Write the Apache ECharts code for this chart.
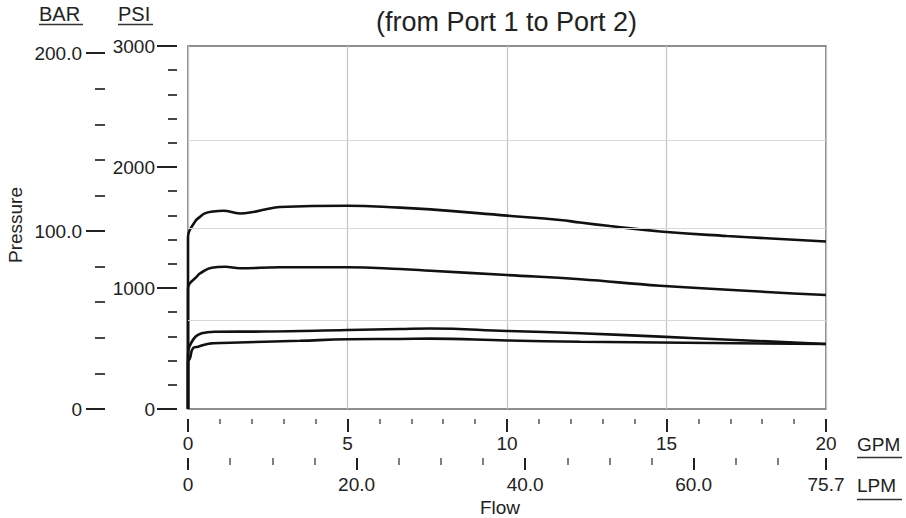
<!DOCTYPE html>
<html>
<head>
<meta charset="utf-8">
<title>Pressure vs Flow</title>
<script src="https://cdn.jsdelivr.net/npm/echarts/dist/echarts.min.js"></script>
<style>
  html, body { margin: 0; padding: 0; background: #fff; }
  #chart { width: 906px; height: 518px; }
</style>
</head>
<body>
<div id="chart"></div>
<script>
  // curves: [flow GPM, pressure PSI]
  var curveTop = [[0, 0], [0, 1420], [0.22, 1548], [0.38, 1589], [0.53, 1617], [0.78, 1632], [1.1, 1639],
    [1.63, 1616], [2.04, 1628], [2.41, 1649], [2.88, 1669], [5.0, 1680], [6.65, 1664], [7.6, 1650],
    [10.0, 1598], [11.66, 1562], [12.29, 1541], [13.23, 1512], [14.8, 1467], [16.9, 1430], [20.0, 1384]];
  var curveSecond = [[0, 0], [0, 990], [0.32, 1107], [0.38, 1121], [0.74, 1168], [1.16, 1176], [1.63, 1163],
    [2.88, 1171], [5.0, 1171], [6.65, 1157], [7.6, 1143], [10.0, 1107], [12.3, 1072],
    [14.8, 1019], [20.0, 942]];
  var curveThird = [[0, 0], [0, 438], [0.12, 556], [0.43, 626], [0.85, 639], [2.41, 640], [5.0, 653],
    [6.65, 661], [7.6, 665], [10.0, 645], [12.3, 626], [14.8, 598], [20.0, 537]];
  var curveBottom = [[0, 0], [0, 388], [0.06, 419], [0.16, 504], [0.32, 515], [0.64, 540], [0.78, 543],
    [2.41, 556], [3.5, 564], [5.0, 576], [6.65, 579], [7.6, 582], [10.0, 566], [12.3, 556], [20.0, 537]];

  // axis ticks and labels
  var lpmMajor = [0, 20, 40, 60, 75.7];
  var lpmMinor = [5, 10, 15, 25, 30, 35, 45, 50, 55, 65, 70];
  var barMajor = [0, 100, 200];
  var barMinor = [20, 40, 60, 80, 120, 140, 160, 180];
  var barMax = 204;
  var refLinesPsi = [2220, 1495, 735];

  var font = 'Liberation Sans, Arial, Helvetica, sans-serif';
  var ink = '#222';
  var noLine = { show: false };

  function curve(name, data) {
    return {
      name: name,
      type: 'line',
      xAxisIndex: 0,
      yAxisIndex: 0,
      data: data,
      smooth: 0.45,
      showSymbol: false,
      silent: true,
      lineStyle: { color: '#111', width: 2.6 }
    };
  }

  var series = [
    curve('c1', curveTop),
    curve('c2', curveSecond),
    curve('c3', curveThird),
    curve('c4', curveBottom)
  ];
  series[0].markLine = {
    silent: true,
    symbol: 'none',
    label: { show: false },
    lineStyle: { color: '#d8d8d8', type: 'solid', width: 1.2 },
    data: refLinesPsi.map(function (v) { return { yAxis: v }; })
  };

  function fmt1(v) { return v === 0 ? '0' : v.toFixed(1); }
  function plain(v) { return String(v); }

  // the tick scales sit in their own thin grids, set apart from the plot
  var plotTop = 46, plotH = 363, plotLeft = 188, plotW = 638;

  var option = {
    animation: false,
    backgroundColor: '#fff',
    textStyle: { fontFamily: font, color: ink },
    title: {
      text: '(from Port 1 to Port 2)',
      left: 371,
      top: 3,
      textStyle: { fontFamily: font, fontSize: 27, fontWeight: 'normal', color: ink }
    },
    grid: [
      { left: plotLeft, top: plotTop, width: plotW, height: plotH, show: true, borderColor: '#6a6a6a', borderWidth: 1.5 },
      { left: 177, top: plotTop, width: 1, height: plotH },   // PSI scale
      { left: 105, top: plotTop, width: 1, height: plotH },   // BAR scale
      { left: plotLeft, top: 418, width: plotW, height: 1 },  // GPM scale
      { left: plotLeft, top: 457, width: plotW, height: 1 }   // LPM scale
    ],
    xAxis: [
      {
        gridIndex: 0, type: 'value', min: 0, max: 20, interval: 5,
        axisLine: noLine, axisTick: { show: false }, axisLabel: { show: false },
        splitLine: { show: true, lineStyle: { color: '#c4c4c4', width: 1.2 } }
      },
      {
        gridIndex: 3, type: 'value', min: 0, max: 20, interval: 5, position: 'bottom',
        axisLine: noLine,
        axisTick: { show: true, length: 13, lineStyle: { color: ink, width: 2 } },
        minorTick: { show: true, splitNumber: 5, length: 5, lineStyle: { color: '#555', width: 1.5 } },
        splitLine: { show: false },
        axisLabel: { margin: 15, fontSize: 19, color: ink, fontFamily: font, formatter: plain }
      },
      {
        gridIndex: 4, type: 'value', min: 0, max: 75.7, position: 'bottom',
        axisLine: noLine,
        axisTick: { show: true, customValues: lpmMajor, length: 12, lineStyle: { color: ink, width: 2 } },
        axisLabel: { customValues: lpmMajor, formatter: fmt1, margin: 17, fontSize: 19, color: ink, fontFamily: font },
        splitLine: { show: false }
      },
      {
        gridIndex: 4, type: 'value', min: 0, max: 75.7, position: 'bottom',
        axisLine: noLine,
        axisTick: { show: true, customValues: lpmMinor, length: 7, lineStyle: { color: '#555', width: 1.5 } },
        axisLabel: { show: false },
        splitLine: { show: false }
      },
      { gridIndex: 1, type: 'value', show: false },
      { gridIndex: 2, type: 'value', show: false }
    ],
    yAxis: [
      {
        gridIndex: 0, type: 'value', min: 0, max: 3000,
        axisLine: noLine, axisTick: { show: false }, axisLabel: { show: false }, splitLine: { show: false }
      },
      {
        gridIndex: 1, type: 'value', min: 0, max: 3000, interval: 1000, position: 'left',
        axisLine: noLine,
        axisTick: { show: true, length: 20, lineStyle: { color: ink, width: 2 } },
        minorTick: { show: true, splitNumber: 5, length: 9, lineStyle: { color: '#333', width: 1.8 } },
        splitLine: { show: false },
        axisLabel: { margin: 22, fontSize: 19, color: ink, fontFamily: font, formatter: plain }
      },
      {
        gridIndex: 2, type: 'value', min: 0, max: barMax, position: 'left',
        axisLine: noLine,
        axisTick: { show: true, customValues: barMajor, length: 19, lineStyle: { color: ink, width: 2 } },
        axisLabel: { customValues: barMajor, formatter: fmt1, margin: 23, fontSize: 19, color: ink, fontFamily: font },
        splitLine: { show: false }
      },
      {
        gridIndex: 2, type: 'value', min: 0, max: barMax, position: 'left',
        axisLine: noLine,
        axisTick: { show: true, customValues: barMinor, length: 10, lineStyle: { color: '#333', width: 1.8 } },
        axisLabel: { show: false },
        splitLine: { show: false }
      },
      { gridIndex: 3, type: 'value', show: false },
      { gridIndex: 4, type: 'value', show: false }
    ],
    graphic: [
      { type: 'text', left: 39, top: 4, style: { text: 'BAR', font: '20px ' + font, fill: ink } },
      { type: 'line', shape: { x1: 39, y1: 24.5, x2: 83, y2: 24.5 }, style: { stroke: '#333', lineWidth: 1.5 } },
      { type: 'text', left: 118, top: 4, style: { text: 'PSI', font: '20px ' + font, fill: ink } },
      { type: 'line', shape: { x1: 118, y1: 24.5, x2: 153, y2: 24.5 }, style: { stroke: '#333', lineWidth: 1.5 } },
      { type: 'text', left: 857, top: 435, style: { text: 'GPM', font: '19px ' + font, fill: ink } },
      { type: 'line', shape: { x1: 857, y1: 457.5, x2: 902, y2: 457.5 }, style: { stroke: '#333', lineWidth: 1.5 } },
      { type: 'text', left: 857, top: 476, style: { text: 'LPM', font: '19px ' + font, fill: ink } },
      { type: 'line', shape: { x1: 857, y1: 499.5, x2: 902, y2: 499.5 }, style: { stroke: '#333', lineWidth: 1.5 } },
      {
        type: 'text', x: 15, y: 225, rotation: Math.PI / 2,
        style: { text: 'Pressure', font: '19px ' + font, fill: ink, align: 'center', verticalAlign: 'middle' }
      },
      {
        type: 'text', x: 500, y: 507,
        style: { text: 'Flow', font: '19px ' + font, fill: ink, align: 'center', verticalAlign: 'middle' }
      }
    ],
    series: series
  };

  var chart = echarts.init(document.getElementById('chart'), null, { renderer: 'svg' });
  chart.setOption(option);
  window.addEventListener('resize', function () { chart.resize(); });
</script>
</body>
</html>
